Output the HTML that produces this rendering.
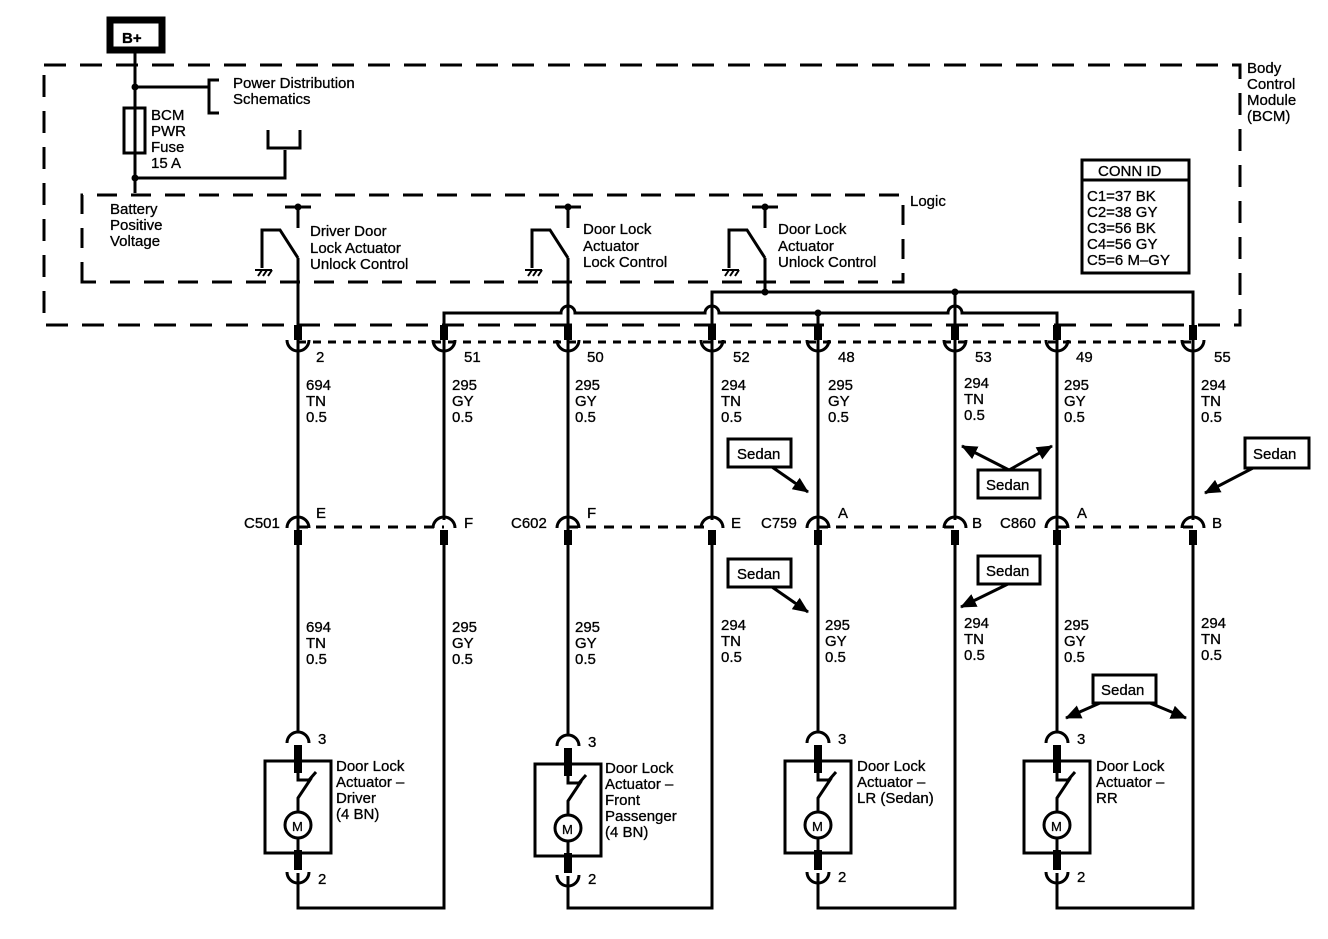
<!DOCTYPE html>
<html><head><meta charset="utf-8"><style>
html,body{margin:0;padding:0;background:#fff}
svg text{font-family:"Liberation Sans",Arial,sans-serif;font-size:15px;fill:#000;stroke:#000;stroke-width:0.3}
</style></head><body>
<svg width="1328" height="934" viewBox="0 0 1328 934" xmlns="http://www.w3.org/2000/svg">
<defs>
<marker id="ah" markerWidth="16" markerHeight="14" refX="15" refY="7" orient="auto" markerUnits="userSpaceOnUse"><path d="M0,0 L16,7 L0,14 Z" fill="#000" stroke="none"/></marker>
</defs>
<g stroke="#000" fill="none" stroke-width="3">
<rect x="110" y="20" width="52" height="30" stroke-width="7"/>
<rect x="44" y="65" width="1196" height="260" stroke-dasharray="22,14"/>
<path d="M82,282 V195 H903 V282 Z" stroke-dasharray="20,14"/>
<path d="M135,50 V193"/>
<rect x="124" y="108" width="21" height="45"/>
<path d="M135,87 H210 M219,80 H209 V113 H219"/>
<path d="M135,178 H285 V150 M268,130 V148 H300 V130"/>
<g id="sw">
<path d="M285,207 H311 M298,207 V228"/>
<path d="M262,268 V230 H280 L298,258"/>
<path d="M255,270 H272 M258,276 L262,270 M263,276 L267,270 M268,276 L272,270" stroke-width="2"/>
</g>
<path d="M298,258 V325 M568,258 V325 M765,258 V292"/>
<use href="#sw" x="270"/>
<use href="#sw" x="467"/>
<path d="M712,325 V292 H1193 V325"/>
<path d="M955,292 V325"/>
<path d="M444,325 V313 H561 A7,7 0 0 1 575,313 H705 A7,7 0 0 1 719,313 H948 A7,7 0 0 1 962,313 H1057 V325"/>
<path d="M818,313 V325"/>
<path d="M298,342 H1193" stroke-dasharray="8,7"/>
<path d="M298,527 H444 M568,527 H712 M818,527 H955 M1057,527 H1193" stroke-dasharray="10,8"/>
<path d="M298,340 V733 M298,873 V908 H444 V540 M444,340 V520"/>
<path d="M568,340 V736 M568,876 V908 H712 V540 M712,340 V520"/>
<path d="M818,340 V733 M818,873 V908 H955 V540 M955,340 V520"/>
<path d="M1057,340 V733 M1057,873 V908 H1193 V540 M1193,340 V520"/>
<rect x="1082" y="160" width="107" height="113"/>
<path d="M1082,180 H1189"/>
<rect x="728" y="439" width="63" height="28"/><path d="M772,467 L808,492" marker-end="url(#ah)"/>
<rect x="978" y="470" width="62" height="28"/><path d="M1009,470 L962,446" marker-end="url(#ah)"/><path d="M1009,470 L1052,446" marker-end="url(#ah)"/>
<rect x="1245" y="438" width="64" height="30"/><path d="M1253,468 L1205,493" marker-end="url(#ah)"/>
<rect x="728" y="559" width="63" height="28"/><path d="M772,587 L808,612" marker-end="url(#ah)"/>
<rect x="978" y="556" width="62" height="28"/><path d="M1008,584 L961,607" marker-end="url(#ah)"/>
<rect x="1093" y="675" width="63" height="28"/><path d="M1100,703 L1066,718" marker-end="url(#ah)"/><path d="M1150,703 L1186,718" marker-end="url(#ah)"/>
</g>
<g stroke="#000" fill="none">
<g id="pins">
<path d="M298,325 V340" stroke-width="8"/>
<path d="M287,340 A11,11 0 0 0 309,340" stroke-width="3"/>
<path d="M287,528 A11,11 0 0 1 309,528" stroke-width="3"/>
<path d="M298,530 V545" stroke-width="8"/>
</g>
<use href="#pins" x="146"/>
<use href="#pins" x="270"/>
<use href="#pins" x="414"/>
<use href="#pins" x="520"/>
<use href="#pins" x="657"/>
<use href="#pins" x="759"/>
<use href="#pins" x="895"/>
<g id="act">
<path d="M287,743 A11,11 0 0 1 309,743" stroke-width="3"/>
<path d="M298,745 V773" stroke-width="8"/>
<rect x="265" y="761" width="66" height="92" stroke-width="3"/>
<path d="M298,773 V780 H310 L298,798 V812 M298,838 V850" stroke-width="3"/>
<path d="M309,780 L316,772" stroke-width="3"/>
<circle cx="298" cy="825" r="13" stroke-width="3"/>
<path d="M298,850 V870" stroke-width="8"/>
<path d="M287,872 A11,11 0 0 0 309,872" stroke-width="3"/>
<text x="292" y="831" style="font-size:13px;stroke-width:0.3">M</text>
</g>
<use href="#act" x="270" y="3"/>
<use href="#act" x="520"/>
<use href="#act" x="759"/>
</g>
<g fill="#000">
<circle cx="135" cy="87" r="3.5"/><circle cx="135" cy="178" r="3.5"/>
<circle cx="298" cy="207" r="3.5"/><circle cx="568" cy="207" r="3.5"/><circle cx="765" cy="207" r="3.5"/>
<circle cx="765" cy="292" r="3.5"/><circle cx="955" cy="292" r="3.5"/><circle cx="818" cy="313" r="3.5"/>
</g>
<text x="122" y="43" font-weight="bold">B+</text>
<text x="233" y="88">Power Distribution</text><text x="233" y="104">Schematics</text>
<text x="151" y="120">BCM</text><text x="151" y="136">PWR</text><text x="151" y="152">Fuse</text><text x="151" y="168">15 A</text>
<text x="110" y="214">Battery</text><text x="110" y="230">Positive</text><text x="110" y="246">Voltage</text>
<text x="310" y="236">Driver Door</text><text x="310" y="253">Lock Actuator</text><text x="310" y="269">Unlock Control</text>
<text x="583" y="234">Door Lock</text><text x="583" y="251">Actuator</text><text x="583" y="267">Lock Control</text>
<text x="778" y="234">Door Lock</text><text x="778" y="251">Actuator</text><text x="778" y="267">Unlock Control</text>
<text x="910" y="206">Logic</text>
<text x="1247" y="73">Body</text><text x="1247" y="89">Control</text><text x="1247" y="105">Module</text><text x="1247" y="121">(BCM)</text>
<text x="1098" y="176">CONN ID</text>
<text x="1087" y="201">C1=37 BK</text><text x="1087" y="217">C2=38 GY</text><text x="1087" y="233">C3=56 BK</text><text x="1087" y="249">C4=56 GY</text><text x="1087" y="265">C5=6 M–GY</text>
<text x="316" y="362">2</text><text x="464" y="362">51</text><text x="587" y="362">50</text><text x="733" y="362">52</text><text x="838" y="362">48</text><text x="975" y="362">53</text><text x="1076" y="362">49</text><text x="1214" y="362">55</text>
<g>
<text x="306" y="390">694</text><text x="306" y="406">TN</text><text x="306" y="422">0.5</text>
<text x="452" y="390">295</text><text x="452" y="406">GY</text><text x="452" y="422">0.5</text>
<text x="575" y="390">295</text><text x="575" y="406">GY</text><text x="575" y="422">0.5</text>
<text x="721" y="390">294</text><text x="721" y="406">TN</text><text x="721" y="422">0.5</text>
<text x="828" y="390">295</text><text x="828" y="406">GY</text><text x="828" y="422">0.5</text>
<text x="964" y="388">294</text><text x="964" y="404">TN</text><text x="964" y="420">0.5</text>
<text x="1064" y="390">295</text><text x="1064" y="406">GY</text><text x="1064" y="422">0.5</text>
<text x="1201" y="390">294</text><text x="1201" y="406">TN</text><text x="1201" y="422">0.5</text>
</g>
<text x="244" y="528">C501</text><text x="316" y="518">E</text><text x="464" y="528">F</text>
<text x="511" y="528">C602</text><text x="587" y="518">F</text><text x="731" y="528">E</text>
<text x="761" y="528">C759</text><text x="838" y="518">A</text><text x="972" y="528">B</text>
<text x="1000" y="528">C860</text><text x="1077" y="518">A</text><text x="1212" y="528">B</text>
<text x="306" y="632">694</text><text x="306" y="648">TN</text><text x="306" y="664">0.5</text>
<text x="452" y="632">295</text><text x="452" y="648">GY</text><text x="452" y="664">0.5</text>
<text x="575" y="632">295</text><text x="575" y="648">GY</text><text x="575" y="664">0.5</text>
<text x="721" y="630">294</text><text x="721" y="646">TN</text><text x="721" y="662">0.5</text>
<text x="825" y="630">295</text><text x="825" y="646">GY</text><text x="825" y="662">0.5</text>
<text x="964" y="628">294</text><text x="964" y="644">TN</text><text x="964" y="660">0.5</text>
<text x="1064" y="630">295</text><text x="1064" y="646">GY</text><text x="1064" y="662">0.5</text>
<text x="1201" y="628">294</text><text x="1201" y="644">TN</text><text x="1201" y="660">0.5</text>
<text x="737" y="459">Sedan</text><text x="986" y="490">Sedan</text><text x="1253" y="459">Sedan</text>
<text x="737" y="579">Sedan</text><text x="986" y="576">Sedan</text><text x="1101" y="695">Sedan</text>
<text x="318" y="744">3</text><text x="318" y="884">2</text>
<text x="588" y="747">3</text><text x="588" y="884">2</text>
<text x="838" y="744">3</text><text x="838" y="882">2</text>
<text x="1077" y="744">3</text><text x="1077" y="882">2</text>
<text x="336" y="771">Door Lock</text><text x="336" y="787">Actuator –</text><text x="336" y="803">Driver</text><text x="336" y="819">(4 BN)</text>
<text x="605" y="773">Door Lock</text><text x="605" y="789">Actuator –</text><text x="605" y="805">Front</text><text x="605" y="821">Passenger</text><text x="605" y="837">(4 BN)</text>
<text x="857" y="771">Door Lock</text><text x="857" y="787">Actuator –</text><text x="857" y="803">LR (Sedan)</text>
<text x="1096" y="771">Door Lock</text><text x="1096" y="787">Actuator –</text><text x="1096" y="803">RR</text>
</svg>
</body></html>
